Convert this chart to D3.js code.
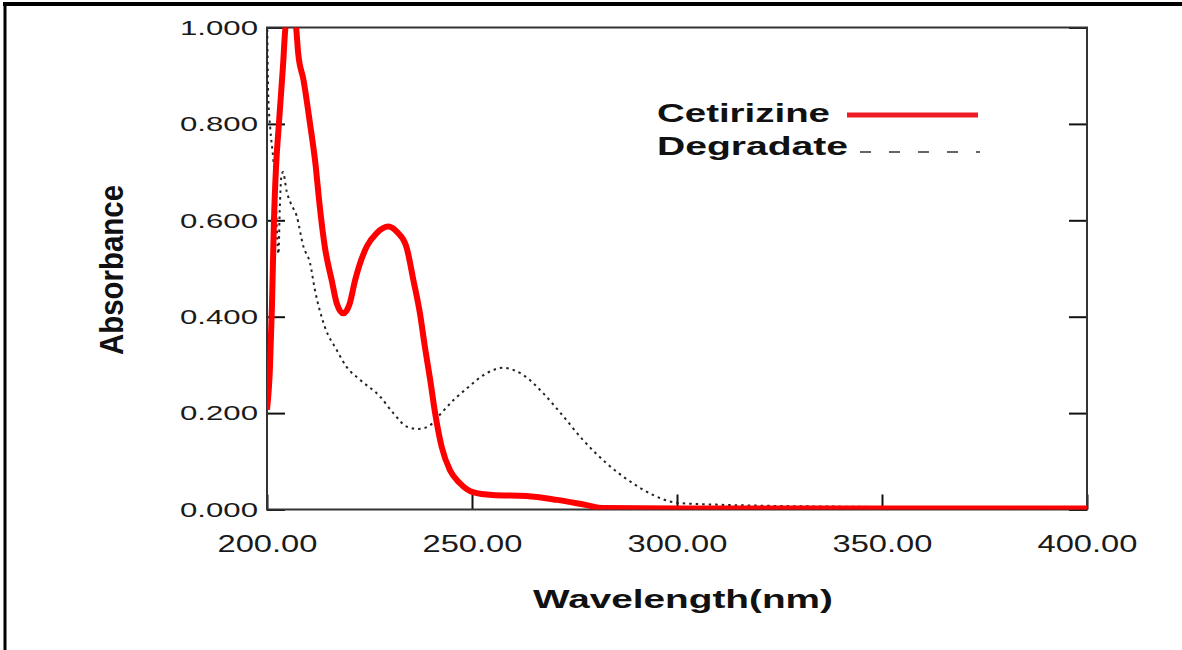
<!DOCTYPE html>
<html>
<head>
<meta charset="utf-8">
<script src="https://cdn.jsdelivr.net/npm/d3@7"></script>
<style>
  body { margin: 0; background: #fff; }
  svg { display: block; font-family: "Liberation Sans", Arial, sans-serif; }
</style>
</head>
<body>
<svg width="1182" height="650"></svg>
<script>
// tick values
const xTicks = [200, 250, 300, 350, 400];
const yTicks = [0, 0.2, 0.4, 0.6, 0.8, 1.0];

// Cetirizine spectrum
const cetWl = [200, 200.7, 201.2, 201.7, 202.2, 202.9, 203.9, 204.5, 205.8, 207.1, 207.6, 208.9,
  210.5, 211.9, 212.7, 214.1, 215.8, 217, 218.6, 220.2, 221.5, 224.3, 226.7, 229.6,
  231.8, 234, 235.7, 237.3, 238.5, 239.8, 241, 242.6, 244.6, 247, 250.2, 255, 263.3, 270.7,
  278, 282, 300, 400];
const cetAbs = [0.207, 0.29, 0.42, 0.6, 0.71, 0.8, 0.92, 1.0, 1.05, 1.0, 0.947, 0.891,
  0.8, 0.711, 0.642, 0.545, 0.475, 0.428, 0.407, 0.428, 0.476, 0.545, 0.573, 0.587,
  0.575, 0.545, 0.476, 0.407, 0.338, 0.269, 0.2, 0.13, 0.082, 0.055, 0.036, 0.03, 0.028, 0.02,
  0.009, 0.003, 0.002, 0.002];

// Degradate spectrum
const degWl = [200, 200.3, 200.8, 201.5, 202.1, 202.5, 202.8, 203.1, 203.5, 203.9, 204.8, 205.8,
  207.2, 208.9, 210.5, 211.7, 214.1, 217, 219.4, 222.7, 227.6, 230.8, 234.1, 236.9, 239.8, 242.2,
  245.5, 248.7, 253.6, 257.6, 262.5, 267.4, 272.3, 277.1, 282.8, 289.3, 294.2, 300, 310, 320,
  350, 370, 400];
const degAbs = [1.05, 0.86, 0.79, 0.73, 0.66, 0.56, 0.53, 0.62, 0.69, 0.70, 0.66, 0.635,
  0.61, 0.545, 0.511, 0.455, 0.379, 0.331, 0.296, 0.269, 0.234, 0.2, 0.172, 0.167, 0.175, 0.197,
  0.227, 0.251, 0.283, 0.294, 0.279, 0.241, 0.193, 0.144, 0.096, 0.054, 0.03, 0.014, 0.01, 0.008,
  0.005, 0.002, 0.001];

const svg = d3.select("svg");
const plotL = 267, plotR = 1087, plotT = 27.5, plotB = 509.5;

const x = d3.scaleLinear().domain([200, 400]).range([plotL, plotR]);
const y = d3.scaleLinear().domain([0, 1]).range([plotB, plotT]);

// outer frame (only top and left edges show)
svg.append("line").attr("x1", 3).attr("x2", 1182).attr("y1", 4).attr("y2", 4)
  .attr("stroke", "#000").attr("stroke-width", 4);
svg.append("line").attr("x1", 5).attr("x2", 5).attr("y1", 2).attr("y2", 650)
  .attr("stroke", "#000").attr("stroke-width", 3);

svg.append("clipPath").attr("id", "plot")
  .append("rect").attr("x", plotL).attr("y", plotT)
  .attr("width", plotR - plotL).attr("height", plotB - plotT);

// axes
const yAxis = svg.append("g").attr("transform", `translate(${plotL},0)`)
  .call(d3.axisLeft(y).tickValues(yTicks).tickSize(-18).tickPadding(9)
    .tickFormat(d3.format(".3f")));
yAxis.selectAll("text").attr("font-size", 21).attr("fill", "#1a1a1a")
  .attr("textLength", 78).attr("lengthAdjust", "spacingAndGlyphs")
  .attr("font-family", "Liberation Sans, Arial, sans-serif");

const yAxisR = svg.append("g").attr("transform", `translate(${plotR},0)`)
  .call(d3.axisRight(y).tickValues(yTicks).tickSize(-18).tickFormat(""));

const xAxis = svg.append("g").attr("transform", `translate(0,${plotB})`)
  .call(d3.axisBottom(x).tickValues(xTicks).tickSize(-15).tickPadding(26)
    .tickFormat(d3.format(".2f")));
xAxis.selectAll("text").attr("font-size", 23).attr("fill", "#1a1a1a")
  .attr("textLength", 100).attr("lengthAdjust", "spacingAndGlyphs")
  .attr("font-family", "Liberation Sans, Arial, sans-serif");

[yAxis, yAxisR, xAxis].forEach(g => {
  g.select(".domain").remove();
  g.selectAll(".tick line").attr("stroke", "#111").attr("stroke-width", 2);
});

svg.append("rect").attr("x", plotL).attr("y", plotT)
  .attr("width", plotR - plotL).attr("height", plotB - plotT)
  .attr("fill", "none").attr("stroke", "#333").attr("stroke-width", 2);

// curves
const line = d3.line().x(d => x(d[0])).y(d => y(d[1])).curve(d3.curveMonotoneX);
const plot = svg.append("g").attr("clip-path", "url(#plot)");

plot.append("path").datum(d3.zip(degWl, degAbs))
  .attr("d", line).attr("fill", "none")
  .attr("stroke", "#222").attr("stroke-width", 2).attr("stroke-dasharray", "2.5,4");

plot.append("path").datum(d3.zip(cetWl, cetAbs))
  .attr("d", line).attr("fill", "none")
  .attr("stroke", "#ff0000").attr("stroke-width", 6).attr("stroke-linejoin", "round");

// legend
svg.append("text").attr("x", 657).attr("y", 122).text("Cetirizine")
  .attr("font-size", 25).attr("font-weight", "bold").attr("fill", "#111")
  .attr("textLength", 173).attr("lengthAdjust", "spacingAndGlyphs");
svg.append("line").attr("x1", 847).attr("x2", 978).attr("y1", 115).attr("y2", 115)
  .attr("stroke", "#ee1c25").attr("stroke-width", 5);
svg.append("text").attr("x", 657).attr("y", 155).text("Degradate")
  .attr("font-size", 25).attr("font-weight", "bold").attr("fill", "#111")
  .attr("textLength", 191).attr("lengthAdjust", "spacingAndGlyphs");
svg.append("line").attr("x1", 860).attr("x2", 980).attr("y1", 152).attr("y2", 152)
  .attr("stroke", "#333").attr("stroke-width", 1.6).attr("stroke-dasharray", "11,18");

// axis titles
svg.append("text").attr("x", 533).attr("y", 608).text("Wavelength(nm)")
  .attr("font-size", 25).attr("font-weight", "bold").attr("fill", "#111")
  .attr("textLength", 300).attr("lengthAdjust", "spacingAndGlyphs");
svg.append("text").attr("transform", "translate(123,355) rotate(-90)").text("Absorbance")
  .attr("font-size", 34).attr("font-weight", "bold").attr("fill", "#111")
  .attr("textLength", 170).attr("lengthAdjust", "spacingAndGlyphs");
</script>
</body>
</html>
